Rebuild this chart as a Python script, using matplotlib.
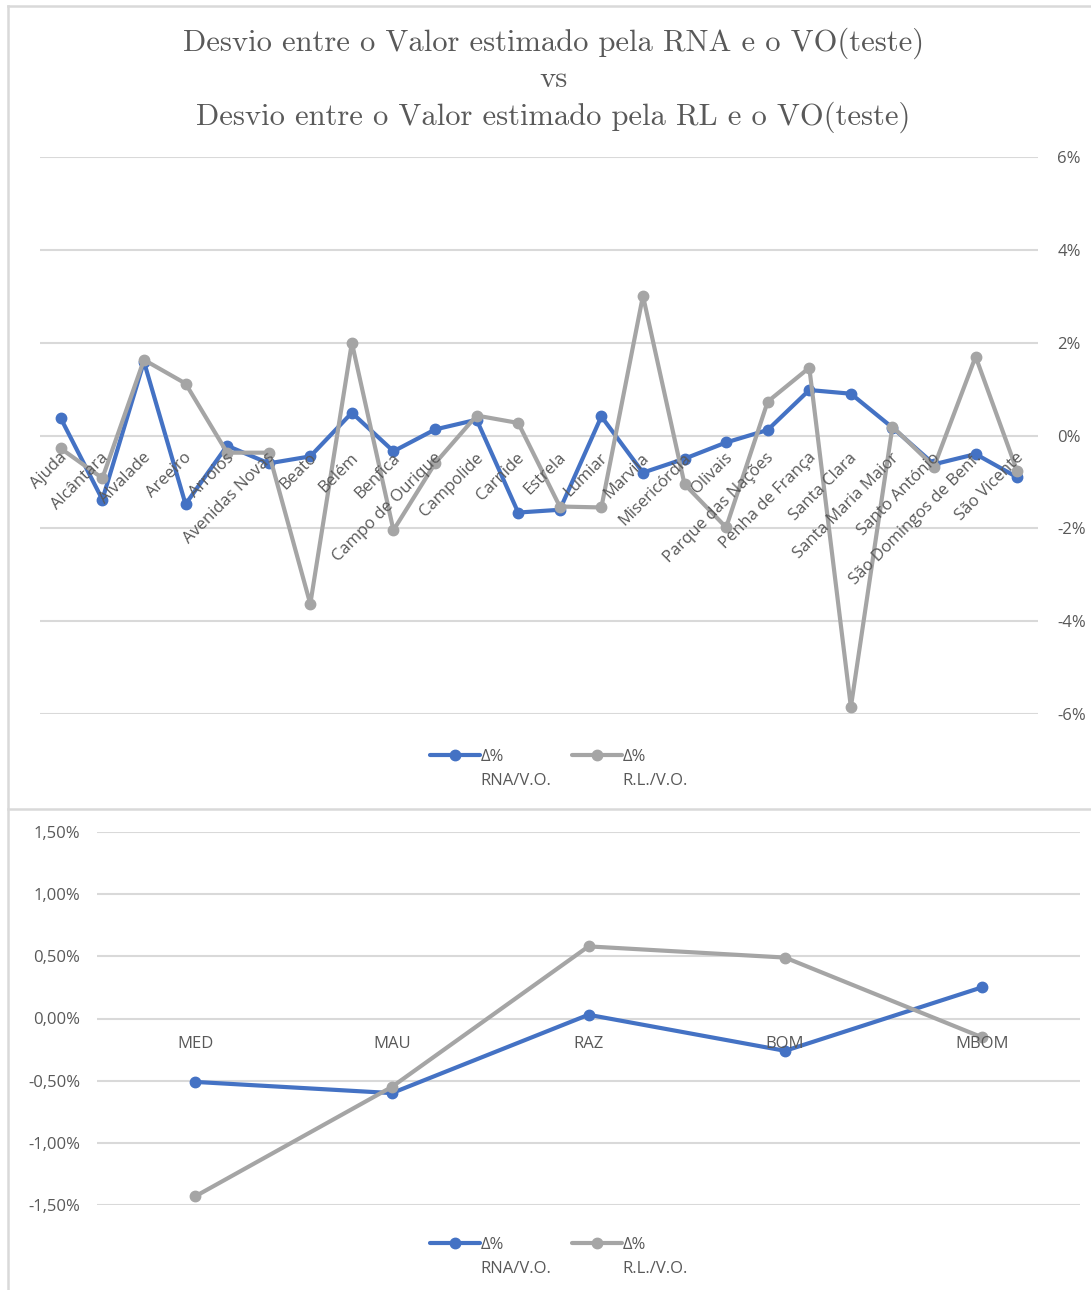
import matplotlib
matplotlib.use("Agg")
import matplotlib.pyplot as plt
import matplotlib.transforms as mtransforms
from matplotlib.lines import Line2D
from matplotlib.ticker import FuncFormatter, MultipleLocator

# ---------------- data ----------------
title = "Desvio entre o Valor estimado pela RNA e o VO(teste)\nvs\nDesvio entre o Valor estimado pela RL e o VO(teste)"

freguesias = ["Ajuda", "Alcântara", "Alvalade", "Areeiro", "Arroios", "Avenidas Novas",
              "Beato", "Belém", "Benfica", "Campo de Ourique", "Campolide", "Carnide",
              "Estrela", "Lumiar", "Marvila", "Misericórdia", "Olivais", "Parque das Nações",
              "Penha de França", "Santa Clara", "Santa Maria Maior", "Santo António",
              "São Domingos de Benf.", "São Vicente"]
rna_freg = [0.37, -1.38, 1.59, -1.48, -0.22, -0.60, -0.45, 0.49, -0.34, 0.13, 0.34, -1.66,
            -1.60, 0.41, -0.80, -0.50, -0.15, 0.12, 0.98, 0.90, 0.17, -0.62, -0.40, -0.90]
rl_freg = [-0.28, -0.92, 1.63, 1.12, -0.37, -0.37, -3.63, 2.00, -2.04, -0.60, 0.43, 0.27,
           -1.53, -1.55, 3.01, -1.05, -1.98, 0.73, 1.46, -5.85, 0.19, -0.67, 1.70, -0.77]

classes = ["MED", "MAU", "RAZ", "BOM", "MBOM"]
rna_cls = [-0.51, -0.60, 0.03, -0.26, 0.25]
rl_cls = [-1.43, -0.55, 0.58, 0.49, -0.15]

series_labels = ["Δ%\nRNA/V.O.", "Δ%\nR.L./V.O."]

# ---------------- style ----------------
BLUE = "#4472C4"
GRAY = "#A5A5A5"
TXT = "#595959"
GRID = "#D9D9D9"
FONT = ["Open Sans", "DejaVu Sans"]

W, H = 1091, 1290
fig = plt.figure(figsize=(W / 100, H / 100), dpi=100)

def fx(px):
    return px / W

def fy(py):
    return 1 - py / H

# chart frames (decoration)
frame_kw = dict(transform=fig.transFigure, color=GRID, lw=1.8)
fig.add_artist(Line2D([fx(8), fx(8)], [fy(6), 0], **frame_kw))
fig.add_artist(Line2D([fx(8), 1], [fy(6), fy(6)], **frame_kw))
fig.add_artist(Line2D([fx(8), 1], [fy(809), fy(809)], **frame_kw))

fig.text(0.507, fy(80), title, ha="center", va="center", family="cmr10",
         fontsize=22, color=TXT, linespacing=1.34)

line_kw = dict(lw=3.0, marker="o", markersize=7.5, solid_capstyle="round")

def style_legend(leg):
    for t in leg.get_texts():
        t.set_color(TXT)
        t.set_linespacing(1.7)
    for col in leg._legend_handle_box.get_children():
        for item in col.get_children():
            item.align = "top"

leg_kw = dict(loc="center", ncol=2, frameon=False, prop={"family": FONT, "size": 12},
              handlelength=3.0, handletextpad=0.05, columnspacing=1.2)

# ---------------- top chart ----------------
ax1 = fig.add_axes([fx(40), fy(714), fx(1038) - fx(40), fy(157) - fy(714)])
x1 = list(range(len(freguesias)))
ax1.plot(x1, rna_freg, color=BLUE, label=series_labels[0], **line_kw)
ax1.plot(x1, rl_freg, color=GRAY, label=series_labels[1], **line_kw)
ax1.set_xlim(-0.5, len(freguesias) - 0.5)
ax1.set_ylim(-6, 6)
ax1.yaxis.set_major_locator(MultipleLocator(2))
ax1.yaxis.set_major_formatter(FuncFormatter(lambda v, p: f"{v:.0f}%" if abs(v) > 1e-9 else "0%"))
ax1.yaxis.tick_right()
ax1.tick_params(axis="y", length=0, pad=14, labelsize=12, labelcolor=TXT)
for lab in ax1.get_yticklabels():
    lab.set_family(FONT)
ax1.set_xticks([])
ax1.grid(axis="y", color=GRID, lw=1.5)
ax1.set_axisbelow(True)
for s in ax1.spines.values():
    s.set_visible(False)
off1 = mtransforms.offset_copy(ax1.transData, fig=fig, x=4, y=-20, units="dots")
for i, name in enumerate(freguesias):
    ax1.text(i, 0, name, transform=off1, rotation=45, rotation_mode="anchor",
             ha="right", va="center", fontsize=12, color=TXT, family=FONT, zorder=5)
leg1 = ax1.legend(bbox_to_anchor=(fx(559), fy(769)), bbox_transform=fig.transFigure, **leg_kw)
style_legend(leg1)

# ---------------- bottom chart ----------------
ax2 = fig.add_axes([fx(97), fy(1205), fx(1080) - fx(97), fy(832) - fy(1205)])
x2 = list(range(len(classes)))
ax2.plot(x2, rna_cls, color=BLUE, label=series_labels[0], **line_kw)
ax2.plot(x2, rl_cls, color=GRAY, label=series_labels[1], **line_kw)
ax2.set_xlim(-0.5, len(classes) - 0.5)
ax2.set_ylim(-1.5, 1.5)
ax2.yaxis.set_major_locator(MultipleLocator(0.5))
ax2.yaxis.set_major_formatter(FuncFormatter(
    lambda v, p: (f"{v:.2f}%" if abs(v) > 1e-9 else "0.00%").replace(".", ",")))
ax2.tick_params(axis="y", length=0, pad=12, labelsize=12, labelcolor=TXT)
for lab in ax2.get_yticklabels():
    lab.set_family(FONT)
ax2.set_xticks([])
ax2.grid(axis="y", color=GRID, lw=1.5)
ax2.set_axisbelow(True)
for s in ax2.spines.values():
    s.set_visible(False)
off2 = mtransforms.offset_copy(ax2.transData, fig=fig, x=0, y=-25, units="dots")
for i, name in enumerate(classes):
    ax2.text(i, 0, name, transform=off2, ha="center", va="center",
             fontsize=12, color=TXT, family=FONT, zorder=5)
leg2 = ax2.legend(bbox_to_anchor=(fx(559), fy(1257)), bbox_transform=fig.transFigure, **leg_kw)
style_legend(leg2)

for ln in ax1.lines + ax2.lines:
    ln.set_clip_on(False)

fig.savefig("out.png", dpi=100)
